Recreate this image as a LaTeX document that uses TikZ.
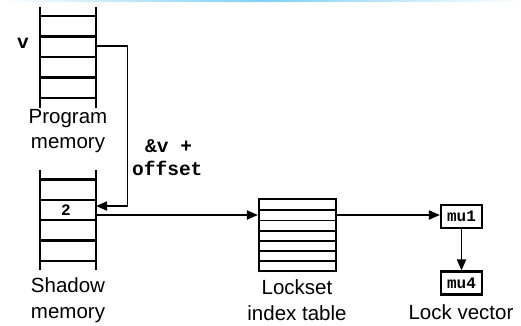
\documentclass[tikz,border=0pt]{standalone}
\usepackage{fontspec}
\setmainfont{Liberation Sans}
\newfontfamily\monob{Liberation Mono}[BoldFont={* Bold}]
\usetikzlibrary{arrows.meta}
\definecolor{topblue}{RGB}{120,210,250}
\tikzset{
  ladder/.style={line width=2.4pt},
  rung/.style={line width=2.1pt},
  conn/.style={line width=1.8pt,-{Triangle[length=11pt,width=9pt]}},
  lbl/.style={font=\fontsize{20.5}{25.5}\selectfont,align=center,inner sep=0pt},
  code/.style={font=\fontsize{19.5}{19.5}\selectfont\monob\bfseries,inner sep=0pt},
  smallcode/.style={font=\fontsize{16}{16}\selectfont\monob\bfseries,inner sep=0pt},
  vbox/.style={draw,line width=2.1pt,minimum width=41pt,minimum height=23pt,inner sep=0pt}
}
\begin{document}
\begin{tikzpicture}[x=1pt,y=-1pt]
\useasboundingbox (0,0) rectangle (521,325);
\shade[left color=white,right color=white,middle color=topblue] (0,0) rectangle (521,1.5);

% Program memory ladder
\draw[ladder] (40,7) -- (40,108) (96,7) -- (96,108);
\foreach \y in {16,36.5,57,77.5,98} \draw[rung] (40,\y) -- (96,\y);
\coordinate (pmv) at (96,46);
\node[code] (vlab) at (23,43) {v};
\node[lbl] (pmlab) at (68,131) {Program\\memory};

% Shadow memory ladder
\draw[ladder] (40,170) -- (40,270) (96,170) -- (96,270);
\foreach \y in {179.5,200,220.3,240.5,260.7} \draw[rung] (40,\y) -- (96,\y);
\coordinate (smin) at (96,206);
\coordinate (smout) at (96,215);
\node[smallcode] (two) at (66,210) {2};
\node[lbl] (smlab) at (68,300) {Shadow\\memory};

% offset arrow
\draw[conn] (pmv) -- (127.5,46) -- (127.5,206) -- (smin);
\node[code,align=left,anchor=west] (off1) at (145,146) {\&v +};
\node[code,anchor=west] (off2) at (132,168) {offset};

% Lockset index table
\node[draw,line width=2.1pt,minimum width=77pt,minimum height=71.5pt,inner sep=0pt] (lit) at (297.5,235) {};
\foreach \y in {210,220.5,231,241,251,261} \draw[line width=1.8pt] (lit.west |- 0,\y) -- (lit.east |- 0,\y);
\node[lbl] (litlab) at (297,300) {Lockset\\index table};
\coordinate (litw) at (lit.west |- 0,215);
\coordinate (lite) at (lit.east |- 0,215);
\draw[conn] (smout) -- (litw);

% Lock vector
\node[vbox] (mu1) at (461.5,216.5) {};
\node[smallcode] at (mu1) {mu1};
\node[vbox] (mu4) at (461.5,283) {};
\node[smallcode] at (mu4) {mu4};
\draw[conn] (lite) -- (mu1.west |- lite);
\draw[conn] (mu1) -- (mu4);
\node[lbl] (lvlab) at (461,312) {Lock vector};
\end{tikzpicture}
\end{document}
